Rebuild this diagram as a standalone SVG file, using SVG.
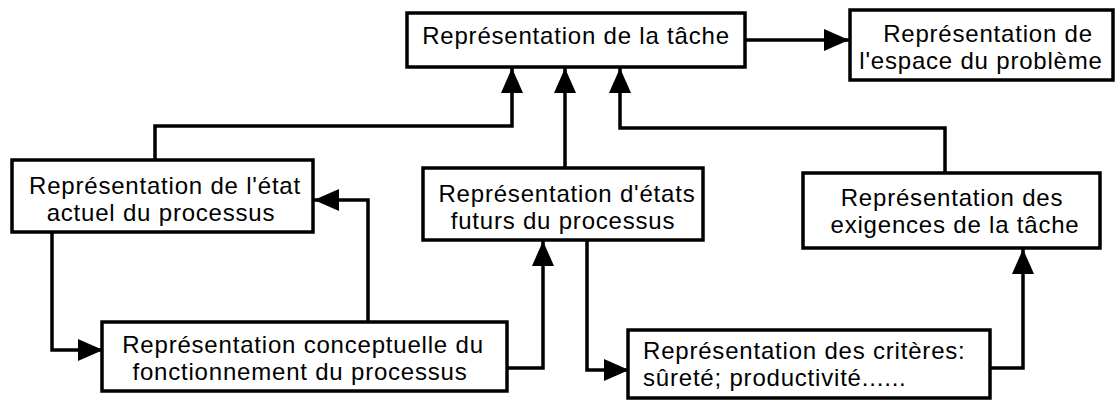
<svg xmlns="http://www.w3.org/2000/svg" width="1116" height="400" viewBox="0 0 1116 400">
<defs>
<style>
.box{fill:#fff;stroke:#000;stroke-width:3.5}
.t{font-family:"Liberation Sans",Arial,Helvetica,sans-serif;font-size:24px;letter-spacing:0.8px;fill:#000}
.c{text-anchor:middle}
.ln{fill:none;stroke:#000;stroke-width:3.5;marker-end:url(#ah)}
</style>
<marker id="ah" markerUnits="userSpaceOnUse" markerWidth="25" markerHeight="22" refX="25" refY="11" orient="auto">
<path d="M0,0 L25,11 L0,22 z" fill="#000"/>
</marker>
</defs>
<rect width="1116" height="400" fill="#fff"/>
<g id="connectors">
<path class="ln" d="M745,40 H849"/>
<path class="ln" d="M155,160 V126 H512 V68"/>
<path class="ln" d="M565,168 V68"/>
<path class="ln" d="M945,173 V128 H620 V68"/>
<path class="ln" d="M368,322 V200 H314"/>
<path class="ln" d="M52,232 V350 H103"/>
<path class="ln" d="M507,368 H543 V241"/>
<path class="ln" d="M587,240 V370 H629"/>
<path class="ln" d="M990,368 H1023 V249"/>
</g>
<g id="tache">
<rect class="box" x="407" y="13" width="338" height="54"/>
<text class="t c" x="576" y="44">Représentation de la tâche</text>
</g>
<g id="espace">
<rect class="box" x="850" y="10" width="263" height="70"/>
<text class="t c" x="988" y="42">Représentation de</text>
<text class="t c" x="981" y="69">l'espace du problème</text>
</g>
<g id="etat-actuel">
<rect class="box" x="12" y="160" width="301" height="72"/>
<text class="t c" x="165" y="194">Représentation de l'état</text>
<text class="t c" x="161" y="221">actuel du processus</text>
</g>
<g id="etats-futurs">
<rect class="box" x="423" y="168" width="280" height="72"/>
<text class="t c" x="567" y="202">Représentation d'états</text>
<text class="t c" x="563" y="229">futurs du processus</text>
</g>
<g id="exigences">
<rect class="box" x="803" y="173" width="297" height="75"/>
<text class="t c" x="952" y="206">Représentation des</text>
<text class="t c" x="955" y="233">exigences de la tâche</text>
</g>
<g id="conceptuelle">
<rect class="box" x="102" y="322" width="405" height="69"/>
<text class="t c" x="303" y="353">Représentation conceptuelle du</text>
<text class="t c" x="300" y="380">fonctionnement du processus</text>
</g>
<g id="criteres">
<rect class="box" x="628" y="330" width="362" height="68"/>
<text class="t" x="643" y="359">Représentation des critères:</text>
<text class="t" x="643" y="386">sûreté; productivité......</text>
</g>
</svg>
